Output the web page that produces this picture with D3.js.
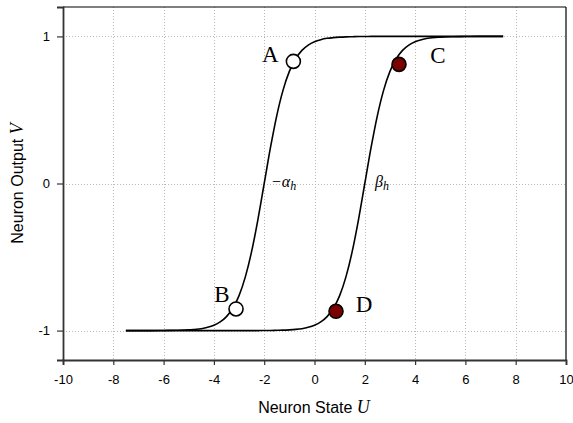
<!DOCTYPE html>
<html><head><meta charset="utf-8">
<script src="https://cdn.jsdelivr.net/npm/d3@7"></script>
<style>body{margin:0;background:#fff}svg{display:block}</style>
</head><body>
<script>
// Neuron state U samples
const uValues = [-7.5,-7,-6.5,-6,-5.5,-5,-4.5,-4.25,-4,-3.75,-3.5,-3.25,-3,-2.75,-2.5,-2.25,-2,-1.75,-1.5,-1.25,-1,-0.75,-0.5,-0.25,0,0.25,0.5,0.75,1,1.25,1.5,1.75,2,2.25,2.5,2.75,3,3.25,3.5,3.75,4,4.25,4.5,5,5.5,6,6.5,7,7.5];
// Curve -alpha_h
const alphaV = [-1,-1,-1,-0.999,-0.998,-0.995,-0.987,-0.978,-0.964,-0.941,-0.905,-0.848,-0.762,-0.635,-0.462,-0.245,0,0.245,0.462,0.635,0.762,0.848,0.905,0.941,0.964,0.978,0.987,0.992,0.995,0.997,0.998,0.999,0.999,1,1,1,1,1,1,1,1,1,1,1,1,1,1,1,1];
// Curve beta_h
const betaV = [-1,-1,-1,-1,-1,-1,-1,-1,-1,-1,-1,-1,-1,-1,-1,-1,-0.999,-0.999,-0.998,-0.997,-0.995,-0.992,-0.987,-0.978,-0.964,-0.941,-0.905,-0.848,-0.762,-0.635,-0.462,-0.245,0,0.245,0.462,0.635,0.762,0.848,0.905,0.941,0.964,0.978,0.987,0.995,0.998,0.999,1,1,1];
// Marked points
const pointNames = ["A","B","C","D"];
const pointU = [-0.84,-3.12,3.36,0.855];
const pointV = [0.83,-0.853,0.81,-0.869];
const pointFilled = [false,false,true,true];
const xTicks = [-10,-8,-6,-4,-2,0,2,4,6,8,10];
const yTicks = [-1,0,1];

const W = 573, H = 423;
const m = {left:63, top:7, right:7, bottom:63};
const svg = d3.select("body").append("svg").attr("width",W).attr("height",H);
const x = d3.scaleLinear().domain([-10,10]).range([m.left, W-m.right]);
const y = d3.scaleLinear().domain([-1.2,1.2]).range([H-m.bottom, m.top]);

// grid
const grid = svg.append("g").attr("stroke","#b8b8b8").attr("stroke-width",1).attr("stroke-dasharray","1,2");
grid.selectAll("line.v").data(xTicks.filter(d=>d>-10&&d<10)).join("line")
  .attr("x1",d=>Math.round(x(d))+0.5).attr("x2",d=>Math.round(x(d))+0.5)
  .attr("y1",y(1.2)).attr("y2",y(-1.2));
grid.selectAll("line.h").data(yTicks).join("line")
  .attr("y1",d=>Math.round(y(d))+0.5).attr("y2",d=>Math.round(y(d))+0.5)
  .attr("x1",x(-10)).attr("x2",x(10));

// frame top/right
svg.append("line").attr("x1",x(-10)).attr("x2",x(10)).attr("y1",y(1.2)).attr("y2",y(1.2)).attr("stroke","#000").attr("stroke-width",1.2);
svg.append("line").attr("x1",x(10)).attr("x2",x(10)).attr("y1",y(1.2)).attr("y2",y(-1.2)).attr("stroke","#000").attr("stroke-width",1.2);

// axes
const fontSans = "'Liberation Sans', Arial, sans-serif";
const fmt = d => String(d);
const xAxis = svg.append("g").attr("transform",`translate(0,${y(-1.2)})`)
  .call(d3.axisBottom(x).tickValues(xTicks).tickSize(5).tickPadding(10).tickFormat(fmt));
const yAxis = svg.append("g").attr("transform",`translate(${x(-10)},0)`)
  .call(d3.axisLeft(y).tickValues(yTicks).tickSize(6).tickPadding(7).tickFormat(fmt));
[xAxis,yAxis].forEach(a=>{
  a.select(".domain").attr("stroke","#333").attr("stroke-width",1.8);
  a.selectAll(".tick line").attr("stroke","#333").attr("stroke-width",1.2);
  a.selectAll("text").attr("font-family",fontSans).attr("font-size",13).attr("fill","#000");
});

// curves
const line = d3.line().x((d,i)=>x(uValues[i])).y(d=>y(d)).curve(d3.curveMonotoneX);
[alphaV,betaV].forEach(s=>{
  svg.append("path").attr("d",line(s)).attr("fill","none").attr("stroke","#000").attr("stroke-width",1.6);
});

// markers
svg.selectAll("circle.pt").data(pointNames).join("circle")
  .attr("cx",(d,i)=>x(pointU[i])).attr("cy",(d,i)=>y(pointV[i])).attr("r",7)
  .attr("fill",(d,i)=>pointFilled[i]?"#7b0000":"#fff").attr("stroke","#000").attr("stroke-width",1.6);

// point labels
const serif = "'Liberation Serif', 'Times New Roman', serif";
const labelDx = [-23,-14,39,28];
const labelDy = [1,-7,-1,1];
svg.selectAll("text.pl").data(pointNames).join("text")
  .attr("x",(d,i)=>x(pointU[i])+labelDx[i]).attr("y",(d,i)=>y(pointV[i])+labelDy[i])
  .attr("text-anchor","middle").attr("font-family",serif).attr("font-size",23).text(d=>d);

// curve labels
const t1 = svg.append("text").attr("x",271).attr("y",187).attr("font-family",serif).attr("font-size",16).attr("font-style","italic");
t1.append("tspan").text("−α");
t1.append("tspan").attr("font-size",12).attr("dy",3).text("h");
const t2 = svg.append("text").attr("x",375).attr("y",187).attr("font-family",serif).attr("font-size",16).attr("font-style","italic");
t2.append("tspan").text("β");
t2.append("tspan").attr("font-size",12).attr("dy",3).text("h");

// axis titles
const xt = svg.append("text").attr("x",314).attr("y",413).attr("text-anchor","middle").attr("font-family",fontSans).attr("font-size",16);
xt.append("tspan").text("Neuron State ");
xt.append("tspan").attr("font-family",serif).attr("font-style","italic").attr("font-size",18).text("U");
const yt = svg.append("text").attr("transform",`translate(23,${(y(1.2)+y(-1.2))/2}) rotate(-90)`).attr("text-anchor","middle").attr("font-family",fontSans).attr("font-size",16);
yt.append("tspan").text("Neuron Output ");
yt.append("tspan").attr("font-family",serif).attr("font-style","italic").attr("font-size",18).text("V");
</script>
</body></html>
